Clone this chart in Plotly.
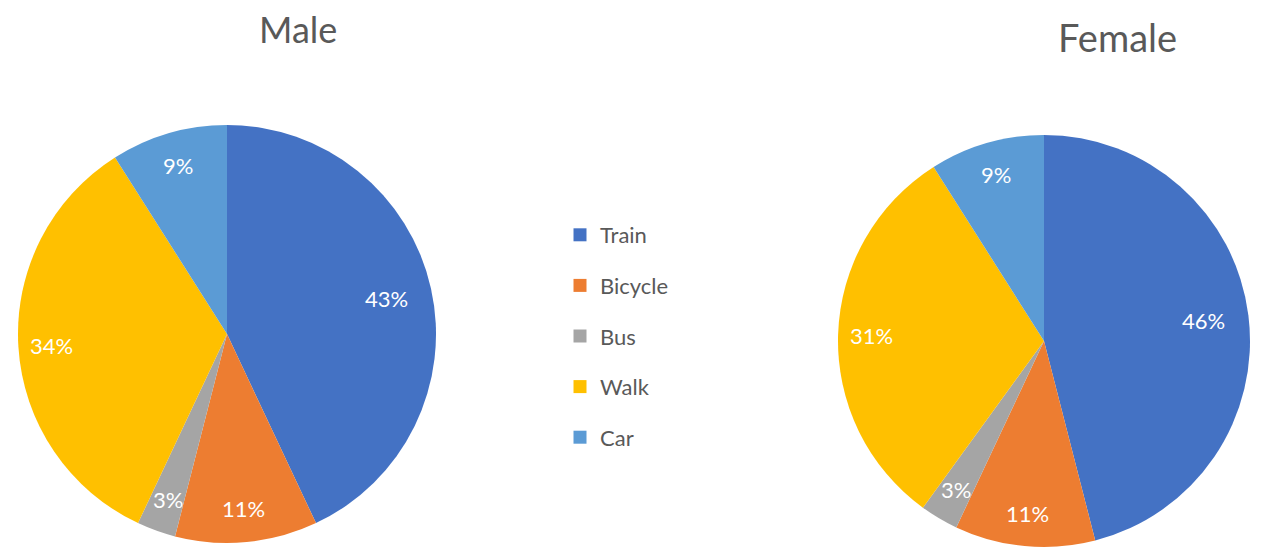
import math
import plotly.graph_objects as go

# Commute mode shares by sex (percent)
modes = ["Train", "Bicycle", "Bus", "Walk", "Car"]
male_share = [43, 11, 3, 34, 9]
female_share = [46, 11, 3, 31, 9]
mode_colors = ["#4472C4", "#ED7D31", "#A5A5A5", "#FFC000", "#5B9BD5"]

W, H = 1261, 548
TXT = "#595959"
FONT = "Lato"

fig = go.Figure()


def add_pie(values, name, x0, x1, y0, y1):
    """Pie in a pixel box (x0..x1, y0..y1 from top-left), labels set just inside the rim."""
    fig.add_trace(go.Pie(
        labels=modes, values=values, name=name,
        sort=False, direction="clockwise", rotation=0,
        marker=dict(colors=mode_colors, line=dict(width=0)),
        textinfo="none",
        domain=dict(x=[x0 / W, x1 / W], y=[1 - y1 / H, 1 - y0 / H]),
        showlegend=False, hoverinfo="label+percent",
    ))
    cx, cy = (x0 + x1) / 2, (y0 + y1) / 2
    r = min(x1 - x0, y1 - y0) / 2
    total = sum(values)
    cum = 0
    for v in values:
        share = v / total
        mid = (cum + share / 2) * 2 * math.pi  # clockwise from 12 o'clock
        cum += share
        frac = 0.78 if share >= 0.4 else 0.84
        px = cx + frac * r * math.sin(mid)
        py = cy - frac * r * math.cos(mid)
        fig.add_annotation(
            text=f"{share:.0%}", x=px / W, y=1 - py / H,
            xref="paper", yref="paper", showarrow=False,
            xanchor="center", yanchor="middle",
            font=dict(color="white", size=22, family=FONT),
        )


add_pie(male_share, "Male", 18, 436, 125, 543)
add_pie(female_share, "Female", 838, 1250, 135, 547)

# Legend entries: one group per mode so the rows can be spaced apart
for m, c in zip(modes, mode_colors):
    fig.add_trace(go.Scatter(
        x=[None], y=[None], mode="markers", name=m, legendgroup=m,
        marker=dict(symbol="square", size=13, color=c),
        showlegend=True, hoverinfo="skip",
    ))

fig.add_annotation(text="Male", x=298 / W, y=1 - 29 / H, xref="paper", yref="paper",
                   showarrow=False, font=dict(size=36, color=TXT, family=FONT),
                   xanchor="center", yanchor="middle")
fig.add_annotation(text="Female", x=1117 / W, y=1 - 37 / H, xref="paper", yref="paper",
                   showarrow=False, font=dict(size=38, color=TXT, family=FONT),
                   xanchor="center", yanchor="middle")

fig.update_layout(
    width=W, height=H,
    margin=dict(l=0, r=0, t=0, b=0),
    paper_bgcolor="white", plot_bgcolor="white",
    xaxis=dict(visible=False), yaxis=dict(visible=False),
    legend=dict(x=560 / W, y=1 - 214 / H, xanchor="left", yanchor="top",
                traceorder="grouped", tracegroupgap=19,
                font=dict(size=22, color=TXT, family=FONT),
                itemwidth=30, bgcolor="rgba(0,0,0,0)"),
)

fig.write_html("out.html")
